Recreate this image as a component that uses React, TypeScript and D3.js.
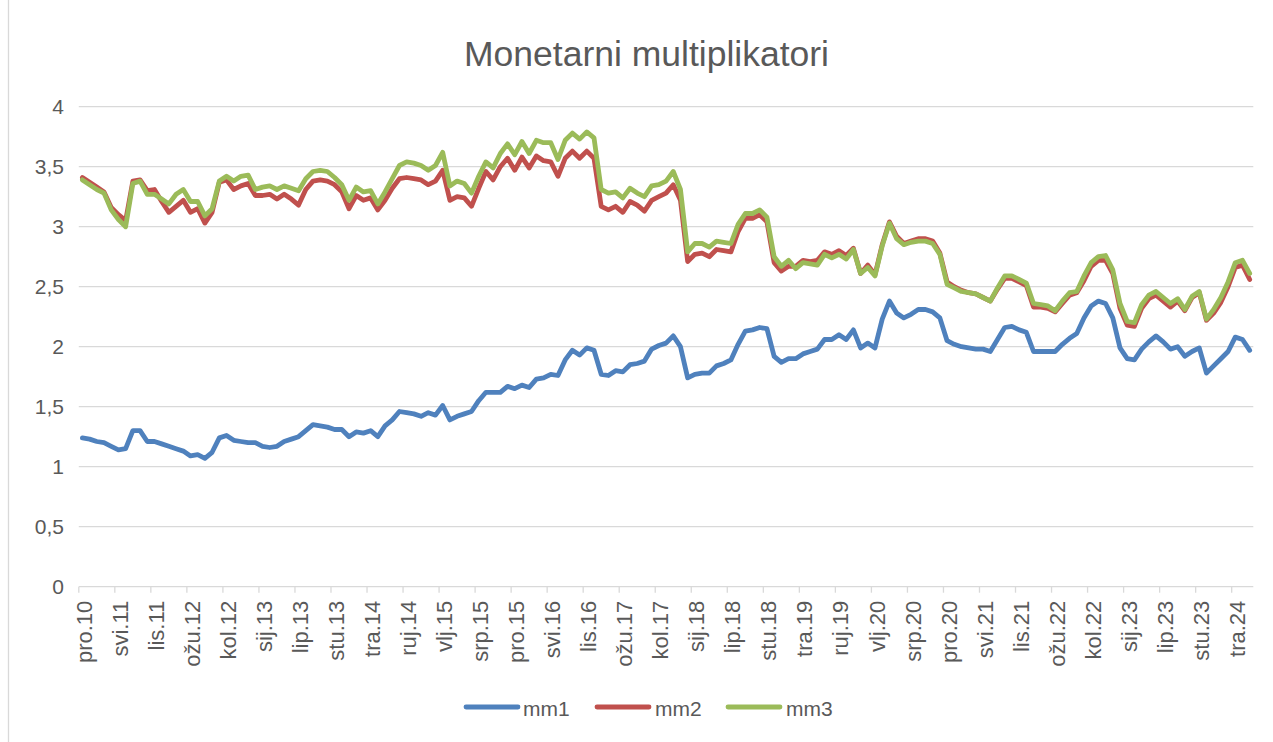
import React from "react";
import * as d3 from "d3";

// Monthly categories: pro.10 (Dec 2010) .. lip.24 (Jun 2024)
const monthNames = ["sij", "vlj", "ožu", "tra", "svi", "lip", "srp", "kol", "ruj", "lis", "stu", "pro"];
const startYear = 2010;
const startMonth = 11; // December
const nMonths = 163;
const categories: string[] = d3.range(nMonths).map((i) => {
  const m = (startMonth + i) % 12;
  const yr = startYear + Math.floor((startMonth + i) / 12);
  return `${monthNames[m]}.${String(yr % 100).padStart(2, "0")}`;
});

const tickLabels = [
  "pro.10", "svi.11", "lis.11", "ožu.12", "kol.12", "sij.13", "lip.13", "stu.13", "tra.14",
  "ruj.14", "vlj.15", "srp.15", "pro.15", "svi.16", "lis.16", "ožu.17", "kol.17", "sij.18",
  "lip.18", "stu.18", "tra.19", "ruj.19", "vlj.20", "srp.20", "pro.20", "svi.21", "lis.21",
  "ožu.22", "kol.22", "sij.23", "lip.23", "stu.23", "tra.24",
];

const yTicks = [0, 0.5, 1, 1.5, 2, 2.5, 3, 3.5, 4];

const mm1 = [
  1.24, 1.23, 1.21, 1.20, 1.17, 1.14, 1.15, 1.30, 1.30, 1.21,
  1.21, 1.19, 1.17, 1.15, 1.13, 1.09, 1.10, 1.07, 1.12, 1.24,
  1.26, 1.22, 1.21, 1.20, 1.20, 1.17, 1.16, 1.17, 1.21, 1.23,
  1.25, 1.30, 1.35, 1.34, 1.33, 1.31, 1.31, 1.25, 1.29, 1.28,
  1.30, 1.25, 1.34, 1.39, 1.46, 1.45, 1.44, 1.42, 1.45, 1.43,
  1.51, 1.39, 1.42, 1.44, 1.46, 1.55, 1.62, 1.62, 1.62, 1.67,
  1.65, 1.68, 1.66, 1.73, 1.74, 1.77, 1.76, 1.89, 1.97, 1.93,
  1.99, 1.97, 1.77, 1.76, 1.80, 1.79, 1.85, 1.86, 1.88, 1.98,
  2.01, 2.03, 2.09, 2.00, 1.74, 1.77, 1.78, 1.78, 1.84, 1.86,
  1.89, 2.02, 2.13, 2.14, 2.16, 2.15, 1.92, 1.87, 1.90, 1.90,
  1.94, 1.96, 1.98, 2.06, 2.06, 2.10, 2.06, 2.14, 1.99, 2.03,
  1.99, 2.23, 2.38, 2.28, 2.24, 2.27, 2.31, 2.31, 2.29, 2.24,
  2.05, 2.02, 2.00, 1.99, 1.98, 1.98, 1.96, 2.06, 2.16, 2.17,
  2.14, 2.12, 1.96, 1.96, 1.96, 1.96, 2.02, 2.07, 2.11, 2.24,
  2.34, 2.38, 2.36, 2.24, 1.99, 1.90, 1.89, 1.98, 2.04, 2.09,
  2.04, 1.98, 2.00, 1.92, 1.96, 1.99, 1.78, 1.84, 1.90, 1.96,
  2.08, 2.06, 1.97,
];

const mm2 = [
  3.41, 3.37, 3.33, 3.29, 3.16, 3.10, 3.05, 3.38, 3.39, 3.30,
  3.31, 3.21, 3.12, 3.17, 3.22, 3.12, 3.15, 3.03, 3.12, 3.37,
  3.39, 3.31, 3.34, 3.36, 3.26, 3.26, 3.27, 3.23, 3.27, 3.23,
  3.18, 3.31, 3.38, 3.39, 3.38, 3.35, 3.29, 3.15, 3.26, 3.22,
  3.24, 3.14, 3.22, 3.32, 3.40, 3.41, 3.40, 3.39, 3.35, 3.38,
  3.47, 3.22, 3.25, 3.24, 3.17, 3.32, 3.46, 3.39, 3.50, 3.57,
  3.47, 3.58, 3.49, 3.59, 3.55, 3.54, 3.42, 3.57, 3.63, 3.57,
  3.63, 3.57, 3.17, 3.14, 3.17, 3.12, 3.21, 3.18, 3.13, 3.22,
  3.25, 3.28, 3.35, 3.22, 2.71, 2.77, 2.78, 2.75, 2.81, 2.80,
  2.79, 2.96, 3.07, 3.07, 3.10, 3.04, 2.70, 2.63, 2.67, 2.67,
  2.72, 2.71, 2.72, 2.79, 2.77, 2.80, 2.76, 2.82, 2.61, 2.68,
  2.60, 2.85, 3.04, 2.92, 2.86, 2.88, 2.90, 2.90, 2.88, 2.78,
  2.54, 2.50, 2.47, 2.45, 2.44, 2.41, 2.38, 2.48, 2.57, 2.57,
  2.54, 2.51, 2.33, 2.33, 2.32, 2.29, 2.36, 2.43, 2.45, 2.55,
  2.67, 2.72, 2.72, 2.61, 2.32, 2.18, 2.17, 2.32, 2.40, 2.43,
  2.38, 2.33, 2.38, 2.30, 2.41, 2.45, 2.22, 2.28, 2.37, 2.50,
  2.66, 2.68, 2.56,
];

const mm3 = [
  3.39, 3.35, 3.31, 3.28, 3.14, 3.06, 3.00, 3.36, 3.38, 3.27,
  3.27, 3.23, 3.19, 3.27, 3.31, 3.21, 3.21, 3.09, 3.15, 3.38,
  3.42, 3.38, 3.42, 3.43, 3.31, 3.33, 3.34, 3.31, 3.34, 3.32,
  3.30, 3.40, 3.46, 3.47, 3.46, 3.41, 3.35, 3.22, 3.33, 3.29,
  3.30, 3.19, 3.29, 3.40, 3.51, 3.54, 3.53, 3.51, 3.47, 3.51,
  3.62, 3.34, 3.38, 3.36, 3.28, 3.42, 3.54, 3.49, 3.61, 3.69,
  3.60, 3.71, 3.61, 3.72, 3.70, 3.70, 3.56, 3.72, 3.78, 3.73,
  3.79, 3.74, 3.31, 3.28, 3.29, 3.24, 3.32, 3.28, 3.25, 3.34,
  3.35, 3.38, 3.46, 3.31, 2.79, 2.86, 2.86, 2.83, 2.88, 2.87,
  2.86, 3.02, 3.11, 3.11, 3.14, 3.08, 2.75, 2.67, 2.72, 2.65,
  2.70, 2.69, 2.68, 2.77, 2.74, 2.77, 2.73, 2.81, 2.61, 2.66,
  2.59, 2.84, 3.03, 2.90, 2.85, 2.87, 2.88, 2.88, 2.86, 2.77,
  2.52, 2.49, 2.46, 2.45, 2.44, 2.41, 2.38, 2.49, 2.59, 2.59,
  2.56, 2.53, 2.36, 2.35, 2.34, 2.30, 2.38, 2.45, 2.46, 2.59,
  2.70, 2.75, 2.76, 2.64, 2.36, 2.21, 2.20, 2.35, 2.43, 2.46,
  2.41, 2.36, 2.40, 2.31, 2.42, 2.46, 2.23, 2.31, 2.41, 2.54,
  2.70, 2.72, 2.61,
];

const seriesNames = ["mm1", "mm2", "mm3"];
const seriesColors = ["#4f81bd", "#c0504d", "#9bbb59"];

const W = 1273;
const H = 742;
const FONT = "'Liberation Sans', Arial, sans-serif";
const TEXT = "#595959";
const GRID = "#d9d9d9";

export default function App() {
  const x = d3
    .scaleBand<string>()
    .domain(categories)
    .range([78.8, 1253.3])
    .paddingInner(0)
    .paddingOuter(0);
  const cx = (c: string) => (x(c) as number) + x.bandwidth() / 2;
  const y = d3.scaleLinear().domain([0, 4]).range([586.7, 106.7]);

  const line = d3
    .line<number>()
    .x((_, i) => cx(categories[i]))
    .y((d) => y(d));

  const all = [mm1, mm2, mm3];
  const plotLeft = x.range()[0];
  const plotRight = x.range()[1];

  const legendItems = [
    { x0: 466, text: 523 },
    { x0: 597, text: 655 },
    { x0: 728, text: 786 },
  ];

  return (
    <svg
      width={W}
      height={H}
      style={{ position: "absolute", left: 0, top: 0, display: "block", background: "#fff" }}
    >
      <rect x={0} y={0} width={W} height={H} fill="#fff" />
      <line x1={8.5} x2={8.5} y1={0} y2={H} stroke={GRID} strokeWidth={1.3} />

      <text
        x={646.5}
        y={66}
        textAnchor="middle"
        fontFamily={FONT}
        fontSize={35.5}
        fill={TEXT}
      >
        Monetarni multiplikatori
      </text>

      {yTicks.map((t) => (
        <g key={t}>
          <line
            x1={plotLeft}
            x2={plotRight}
            y1={y(t)}
            y2={y(t)}
            stroke={GRID}
            strokeWidth={1.3}
          />
          <text
            x={64}
            y={y(t)}
            textAnchor="end"
            dominantBaseline="central"
            fontFamily={FONT}
            fontSize={21}
            fill={TEXT}
          >
            {String(t).replace(".", ",")}
          </text>
        </g>
      ))}

      {categories.map((c) =>
        tickLabels.includes(c) ? (
          <g key={c}>
            <line
              x1={x(c) as number}
              x2={x(c) as number}
              y1={y(0)}
              y2={y(0) + 6}
              stroke={GRID}
              strokeWidth={1.3}
            />
            <text
              transform={`translate(${cx(c) + 2},${y(0) + 14}) rotate(-90)`}
              textAnchor="end"
              dominantBaseline="central"
              fontFamily={FONT}
              fontSize={22}
              fill={TEXT}
            >
              {c}
            </text>
          </g>
        ) : null
      )}

      {all.map((s, k) => (
        <path
          key={seriesNames[k]}
          d={line(s) as string}
          fill="none"
          stroke={seriesColors[k]}
          strokeWidth={4.8}
          strokeLinejoin="round"
          strokeLinecap="round"
        />
      ))}

      {seriesNames.map((n, k) => (
        <g key={n}>
          <line
            x1={legendItems[k].x0}
            x2={legendItems[k].x0 + 52}
            y1={707}
            y2={707}
            stroke={seriesColors[k]}
            strokeWidth={4.8}
            strokeLinecap="round"
          />
          <text
            x={legendItems[k].text}
            y={708}
            dominantBaseline="central"
            fontFamily={FONT}
            fontSize={21}
            fill={TEXT}
          >
            {n}
          </text>
        </g>
      ))}
    </svg>
  );
}
